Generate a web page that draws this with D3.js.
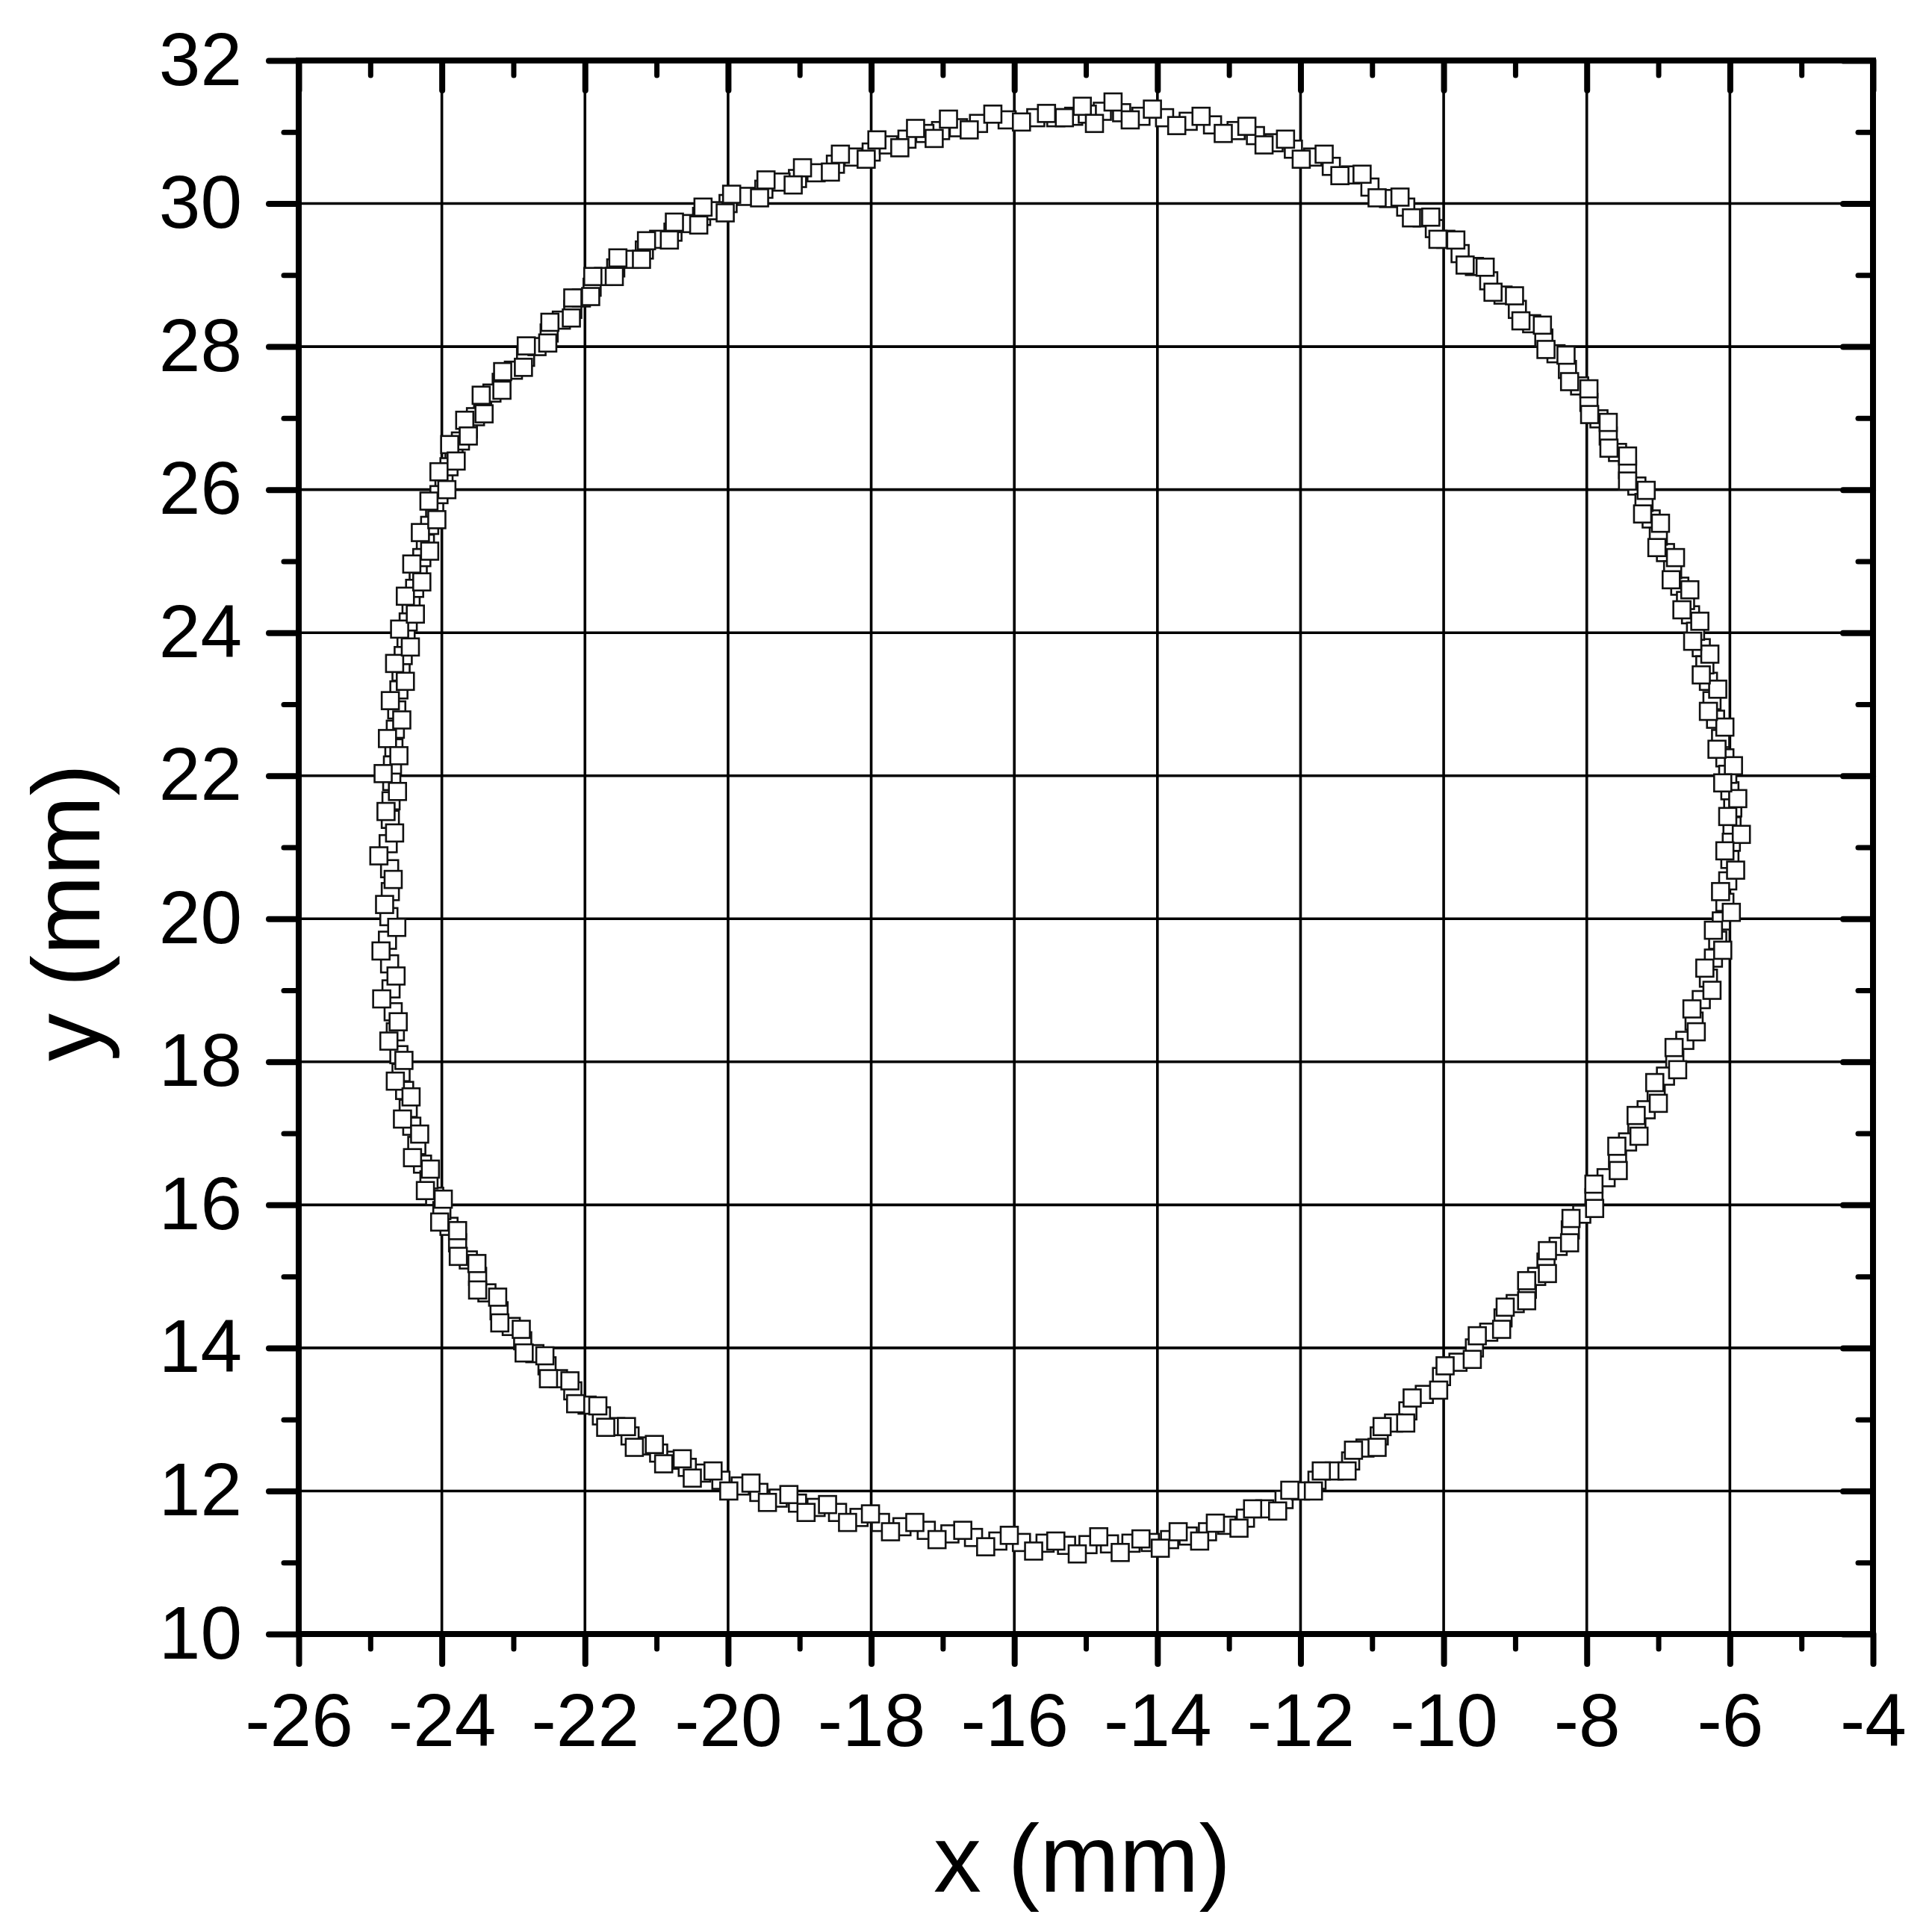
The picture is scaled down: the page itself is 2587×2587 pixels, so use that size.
<!DOCTYPE html>
<html>
<head>
<meta charset="utf-8">
<script src="https://cdn.jsdelivr.net/npm/d3@7"></script>
<style>
  html, body { margin: 0; padding: 0; background: #fff; }
  svg { display: block; }
  text { font-family: "Liberation Sans", Arial, sans-serif; fill: #000; }
</style>
</head>
<body>
<svg id="chart"></svg>
<script>
// Tick values
const xTicks = [-26, -24, -22, -20, -18, -16, -14, -12, -10, -8, -6, -4];
const xMinorTicks = [-25, -23, -21, -19, -17, -15, -13, -11, -9, -7, -5];
const yTicks = [10, 12, 14, 16, 18, 20, 22, 24, 26, 28, 30, 32];
const yMinorTicks = [11, 13, 15, 17, 19, 21, 23, 25, 27, 29, 31];

// Measured (x, y) points in mm, one list per pass round the contour
const passA = [[-14.77,31.29],[-15.17,31.22],[-15.7,31.2],[-16.5,31.12],[-17.03,31.02],[-17.5,30.9],[-18.0,30.72],[-18.5,30.55],[-19.03,30.35],[-19.5,30.2],[-20.0,30.0],[-20.37,29.82],[-20.77,29.6],[-21.17,29.35],[-21.57,29.1],[-21.9,28.83],[-22.17,28.52],[-22.5,28.19],[-22.83,27.85],[-23.17,27.5],[-23.43,27.17],[-23.63,26.85],[-23.83,26.5],[-23.97,26.12],[-24.1,25.72],[-24.23,25.25],[-24.33,24.85],[-24.43,24.39],[-24.5,23.92],[-24.57,23.45],[-24.63,22.92],[-24.67,22.39],[-24.7,21.92],[-24.72,21.39],[-24.73,20.7],[-24.74,20.03],[-24.73,19.37],[-24.68,18.7],[-24.6,18.1],[-24.52,17.6],[-24.42,17.1],[-24.27,16.57],[-24.1,16.12],[-23.9,15.7],[-23.63,15.23],[-23.37,14.77],[-23.03,14.3],[-22.7,13.92],[-22.37,13.57],[-21.97,13.2],[-21.57,12.9],[-21.17,12.63],[-20.77,12.43],[-20.37,12.25],[-19.83,12.07],[-19.3,11.9],[-18.77,11.77],[-18.17,11.63],[-17.57,11.5],[-16.9,11.4],[-16.23,11.3],[-15.57,11.27],[-14.97,11.25],[-14.37,11.27],[-13.83,11.32],[-13.3,11.43],[-12.77,11.62],[-12.23,11.88],[-11.77,12.15],[-11.3,12.42],[-10.9,12.77],[-10.5,13.12],[-10.03,13.6],[-9.57,14.0],[-9.17,14.42],[-8.83,14.82],[-8.57,15.2],[-8.23,15.65],[-7.9,16.1],[-7.57,16.65],[-7.3,17.1],[-7.03,17.57],[-6.77,18.03],[-6.5,18.57],[-6.3,19.17],[-6.17,19.7],[-6.07,20.23],[-6.0,20.83],[-5.97,21.3],[-6.0,21.79],[-6.07,22.25],[-6.2,22.79],[-6.3,23.32],[-6.4,23.79],[-6.55,24.25],[-6.7,24.65],[-6.9,25.12],[-7.1,25.59],[-7.3,26.05],[-7.57,26.52],[-7.83,26.99],[-8.1,27.45],[-8.43,27.9],[-8.77,28.32],[-9.17,28.72],[-9.57,29.12],[-9.97,29.5],[-10.3,29.8],[-10.77,30.07],[-11.3,30.4],[-11.83,30.65],[-12.37,30.85],[-12.9,31.02],[-13.57,31.15],[-14.23,31.22]];

const passB = [[-14.5,31.27],[-14.98,31.25],[-15.42,31.2],[-16.1,31.17],[-16.78,31.06],[-17.25,30.98],[-17.76,30.82],[-18.25,30.65],[-18.77,30.43],[-19.26,30.3],[-19.75,30.1],[-20.2,29.9],[-20.58,29.72],[-20.97,29.5],[-21.38,29.22],[-21.74,28.98],[-22.05,28.68],[-22.33,28.37],[-22.67,28.0],[-23.0,27.67],[-23.3,27.35],[-23.53,27.02],[-23.74,26.68],[-23.9,26.32],[-24.04,25.93],[-24.17,25.5],[-24.28,25.05],[-24.38,24.62],[-24.47,24.15],[-24.54,23.68],[-24.6,23.2],[-24.65,22.65],[-24.69,22.15],[-24.71,21.65],[-24.75,21.05],[-24.72,20.38],[-24.76,19.7],[-24.71,19.02],[-24.65,18.42],[-24.57,17.85],[-24.47,17.35],[-24.35,16.83],[-24.18,16.35],[-24.0,15.92],[-23.78,15.47],[-23.5,15.0],[-23.2,14.52],[-22.87,14.1],[-22.53,13.75],[-22.17,13.4],[-21.77,13.05],[-21.37,12.77],[-20.97,12.53],[-20.57,12.33],[-20.1,12.15],[-19.57,11.98],[-19.03,11.83],[-18.47,11.7],[-17.87,11.56],[-17.23,11.45],[-16.57,11.35],[-15.9,11.28],[-15.27,11.24],[-14.67,11.26],[-14.1,11.28],[-13.57,11.37],[-13.03,11.52],[-12.5,11.75],[-12.0,12.0],[-11.53,12.28],[-11.1,12.6],[-10.7,12.95],[-10.27,13.35],[-9.8,13.8],[-9.37,14.22],[-9.0,14.62],[-8.7,15.0],[-8.4,15.42],[-8.07,15.87],[-7.73,16.38],[-7.43,16.88],[-7.17,17.33],[-6.9,17.8],[-6.63,18.3],[-6.4,18.87],[-6.23,19.45],[-6.12,19.97],[-6.03,20.53],[-5.98,21.07],[-5.96,21.55],[-6.03,22.02],[-6.13,22.52],[-6.25,23.05],[-6.35,23.55],[-6.48,24.02],[-6.62,24.45],[-6.8,24.88],[-7.0,25.35],[-7.2,25.82],[-7.43,26.28],[-7.7,26.75],[-7.97,27.22],[-8.27,27.68],[-8.6,28.12],[-8.97,28.52],[-9.37,28.92],[-9.77,29.3],[-10.13,29.65],[-10.53,29.95],[-11.03,30.23],[-11.57,30.52],[-12.1,30.76],[-12.63,30.95],[-13.23,31.1],[-13.9,31.2]];

// Pass lying a little outside the others
const passC = [[-14.62,31.42],[-15.05,31.36],[-15.55,31.26],[-16.3,31.25],[-16.92,31.18],[-17.38,31.05],[-17.92,30.89],[-18.43,30.69],[-18.96,30.5],[-19.47,30.33],[-19.95,30.13],[-20.35,29.95],[-20.75,29.74],[-21.14,29.48],[-21.54,29.24],[-21.89,28.98],[-22.17,28.68],[-22.49,28.34],[-22.82,28.01],[-23.15,27.65],[-23.45,27.32],[-23.68,26.97],[-23.89,26.63],[-24.04,26.25],[-24.18,25.84],[-24.3,25.4],[-24.42,24.96],[-24.51,24.51],[-24.59,24.05],[-24.66,23.57],[-24.72,23.05],[-24.76,22.52],[-24.82,22.03],[-24.78,21.5],[-24.88,20.88],[-24.8,20.2],[-24.85,19.55],[-24.84,18.88],[-24.74,18.29],[-24.65,17.73],[-24.55,17.2],[-24.41,16.66],[-24.23,16.2],[-24.03,15.76],[-23.77,15.28],[-23.5,14.81],[-23.19,14.35],[-22.85,13.93],[-22.51,13.57],[-22.13,13.22],[-21.71,12.89],[-21.31,12.61],[-20.9,12.38],[-20.5,12.18],[-19.99,12.0],[-19.45,11.84],[-18.91,11.7],[-18.33,11.56],[-17.73,11.43],[-17.08,11.32],[-16.4,11.22],[-15.73,11.16],[-15.12,11.12],[-14.52,11.14],[-13.96,11.2],[-13.41,11.3],[-12.86,11.48],[-12.32,11.72],[-11.82,12.0],[-11.35,12.28],[-10.93,12.61],[-10.53,12.95],[-10.07,13.41],[-9.6,13.84],[-9.19,14.26],[-8.84,14.66],[-8.55,15.04],[-8.24,15.47],[-7.89,15.95],[-7.56,16.48],[-7.27,16.96],[-7.0,17.42],[-6.73,17.89],[-6.47,18.42],[-6.25,19.0],[-6.1,19.56],[-5.98,20.09],[-5.92,20.68],[-5.84,21.18],[-5.89,21.68],[-5.95,22.14],[-6.07,22.68],[-6.17,23.21],[-6.28,23.7],[-6.42,24.16],[-6.56,24.6],[-6.76,25.05],[-6.97,25.53],[-7.17,25.99],[-7.43,26.47],[-7.7,26.94],[-7.97,27.41],[-8.29,27.88],[-8.62,28.3],[-9.01,28.71],[-9.42,29.11],[-9.83,29.49],[-10.18,29.81],[-10.61,30.09],[-11.14,30.41],[-11.67,30.69],[-12.21,30.9],[-12.75,31.08],[-13.39,31.22],[-14.07,31.32]];

// Pass lying a little inside the others
const passD = [[-14.38,31.17],[-14.88,31.12],[-15.3,31.2],[-15.9,31.14],[-16.63,31.03],[-17.12,30.91],[-17.6,30.78],[-18.07,30.62],[-18.57,30.44],[-19.09,30.26],[-19.56,30.08],[-20.04,29.87],[-20.41,29.7],[-20.82,29.49],[-21.21,29.22],[-21.59,28.98],[-21.92,28.7],[-22.19,28.4],[-22.52,28.05],[-22.86,27.71],[-23.16,27.39],[-23.41,27.06],[-23.63,26.75],[-23.8,26.4],[-23.93,26.0],[-24.07,25.58],[-24.17,25.14],[-24.28,24.71],[-24.37,24.26],[-24.44,23.8],[-24.51,23.32],[-24.56,22.78],[-24.6,22.28],[-24.62,21.78],[-24.66,21.2],[-24.68,20.55],[-24.63,19.88],[-24.64,19.2],[-24.61,18.56],[-24.53,18.02],[-24.43,17.51],[-24.31,16.99],[-24.16,16.5],[-23.98,16.08],[-23.78,15.64],[-23.51,15.18],[-23.22,14.71],[-22.89,14.26],[-22.56,13.89],[-22.21,13.54],[-21.82,13.19],[-21.42,12.9],[-21.03,12.65],[-20.64,12.45],[-20.21,12.28],[-19.68,12.11],[-19.15,11.95],[-18.61,11.81],[-18.01,11.68],[-17.39,11.56],[-16.72,11.45],[-16.07,11.38],[-15.42,11.3],[-14.82,11.36],[-14.23,11.33],[-13.71,11.43],[-13.19,11.55],[-12.67,11.75],[-12.15,12.01],[-11.71,12.28],[-11.26,12.57],[-10.86,12.9],[-10.44,13.3],[-9.98,13.75],[-9.53,14.17],[-9.14,14.57],[-8.84,14.94],[-8.55,15.36],[-8.22,15.81],[-7.9,16.29],[-7.58,16.82],[-7.31,17.25],[-7.05,17.71],[-6.78,18.2],[-6.53,18.74],[-6.35,19.31],[-6.23,19.84],[-6.13,20.38],[-6.07,20.95],[-6.03,21.43],[-6.1,21.9],[-6.18,22.37],[-6.3,22.9],[-6.4,23.41],[-6.52,23.88],[-6.67,24.32],[-6.82,24.74],[-7.02,25.19],[-7.22,25.66],[-7.43,26.12],[-7.69,26.58],[-7.96,27.05],[-8.24,27.51],[-8.57,27.96],[-8.92,28.36],[-9.31,28.76],[-9.7,29.14],[-10.08,29.5],[-10.45,29.8],[-10.93,30.08],[-11.45,30.39],[-11.99,30.62],[-12.51,30.82],[-13.08,30.98],[-13.73,31.09]];

const passes = [passA, passB, passC, passD];

// Layout
const W = 2587, H = 2587;
const plotLeft = 400, plotRight = 2508, plotTop = 81, plotBottom = 2188;
const majorLen = 40, minorLen = 20;

const svg = d3.select("#chart").attr("width", W).attr("height", H);
svg.append("rect").attr("width", W).attr("height", H).attr("fill", "#fff");

const x = d3.scaleLinear().domain([-26, -4]).range([plotLeft, plotRight]);
const y = d3.scaleLinear().domain([10, 32]).range([plotBottom, plotTop]);

// Grid lines at major ticks
const grid = svg.append("g").attr("stroke", "#000").attr("stroke-width", 3.6);
grid.selectAll(".gx").data(xTicks.slice(1, -1)).join("line")
  .attr("x1", d => x(d)).attr("x2", d => x(d))
  .attr("y1", plotTop).attr("y2", plotBottom);
grid.selectAll(".gy").data(yTicks.slice(1, -1)).join("line")
  .attr("y1", d => y(d)).attr("y2", d => y(d))
  .attr("x1", plotLeft).attr("x2", plotRight);

// Open square markers
const markerSide = 23;
const points = svg.append("g")
  .attr("fill", "#fff").attr("stroke", "#111").attr("stroke-width", 2.6);
passes.forEach(pass => {
  points.append("g").selectAll("rect").data(pass).join("rect")
    .attr("x", d => x(d[0]) - markerSide / 2)
    .attr("y", d => y(d[1]) - markerSide / 2)
    .attr("width", markerSide)
    .attr("height", markerSide);
});

// Helper to style an axis group
function styleAxis(g, width) {
  g.select(".domain").remove();
  g.selectAll(".tick line")
    .attr("stroke", "#000")
    .attr("stroke-width", width)
    .attr("stroke-linecap", "round");
}

// Labels keep the plain hyphen, as in the original
const plainLabel = d => String(d);

// Bottom axis (outward ticks, labels)
svg.append("g").attr("transform", `translate(0,${plotBottom})`)
  .call(d3.axisBottom(x).tickValues(xMinorTicks).tickSize(minorLen).tickFormat(""))
  .call(g => styleAxis(g, 7));
svg.append("g").attr("transform", `translate(0,${plotBottom})`)
  .call(d3.axisBottom(x).tickValues(xTicks).tickSize(majorLen).tickPadding(39).tickFormat(plainLabel))
  .call(g => styleAxis(g, 8))
  .call(g => g.selectAll("text").attr("font-size", 100).attr("font-family", "Liberation Sans, Arial, sans-serif"));

// Top axis (inward ticks)
svg.append("g").attr("transform", `translate(0,${plotTop})`)
  .call(d3.axisTop(x).tickValues(xMinorTicks).tickSize(-minorLen).tickFormat(""))
  .call(g => styleAxis(g, 7));
svg.append("g").attr("transform", `translate(0,${plotTop})`)
  .call(d3.axisTop(x).tickValues(xTicks).tickSize(-majorLen).tickFormat(""))
  .call(g => styleAxis(g, 8));

// Left axis (outward ticks, labels)
svg.append("g").attr("transform", `translate(${plotLeft},0)`)
  .call(d3.axisLeft(y).tickValues(yMinorTicks).tickSize(minorLen).tickFormat(""))
  .call(g => styleAxis(g, 7));
svg.append("g").attr("transform", `translate(${plotLeft},0)`)
  .call(d3.axisLeft(y).tickValues(yTicks).tickSize(majorLen).tickPadding(36).tickFormat(plainLabel))
  .call(g => styleAxis(g, 8))
  .call(g => g.selectAll("text").attr("font-size", 100).attr("font-family", "Liberation Sans, Arial, sans-serif"));

// Right axis (inward ticks)
svg.append("g").attr("transform", `translate(${plotRight},0)`)
  .call(d3.axisRight(y).tickValues(yMinorTicks).tickSize(-minorLen).tickFormat(""))
  .call(g => styleAxis(g, 7));
svg.append("g").attr("transform", `translate(${plotRight},0)`)
  .call(d3.axisRight(y).tickValues(yTicks).tickSize(-majorLen).tickFormat(""))
  .call(g => styleAxis(g, 8));

// Frame
svg.append("rect")
  .attr("x", plotLeft).attr("y", plotTop)
  .attr("width", plotRight - plotLeft).attr("height", plotBottom - plotTop)
  .attr("fill", "none").attr("stroke", "#000").attr("stroke-width", 8);

// Axis titles
svg.append("text")
  .attr("x", (plotLeft + plotRight) / 2 - 5).attr("y", 2533)
  .attr("text-anchor", "middle").attr("font-size", 128)
  .text("x (mm)");

svg.append("text")
  .attr("transform", "translate(133,1222) rotate(-90)")
  .attr("text-anchor", "middle").attr("font-size", 128)
  .text("y (mm)");
</script>
</body>
</html>
